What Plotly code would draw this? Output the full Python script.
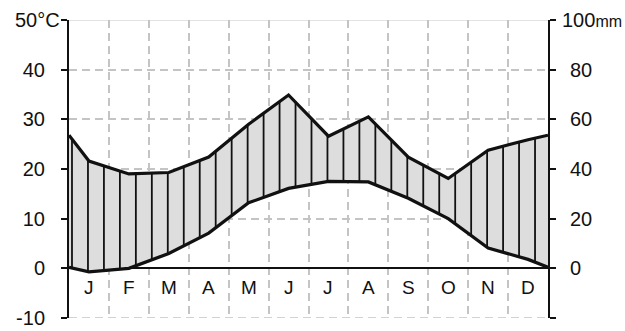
import numpy as np
import plotly.graph_objects as go

# Month positions: edges 0 and 12, centres 0.5..11.5
month_labels = ["J", "F", "M", "A", "M", "J", "J", "A", "S", "O", "N", "D"]
x_pos = [0, 0.5, 1.5, 2.5, 3.5, 4.5, 5.5, 6.5, 7.5, 8.5, 9.5, 10.5, 11.5, 12]

# Temperature (°C)
temperature = [0.2, -0.7, 0.0, 3.0, 7.1, 13.2, 16.1, 17.5, 17.4, 14.1, 10.0, 4.1, 1.8, 0.2]
# Precipitation (mm)
precipitation = [53.6, 43.2, 38.0, 38.6, 44.8, 58.0, 69.8, 53.2, 61.0, 44.8, 36.2, 47.6, 51.8, 53.6]

left_ticks = [-10, 0, 10, 20, 30, 40, 50]
left_ticktext = ["-10", "0", "10", "20", "30", "40", ""]
right_ticks = [-20, 0, 20, 40, 60, 80, 100]
right_ticktext = ["", "0", "20", "40", "60", "80", ""]

precip_scaled = [p / 2.0 for p in precipitation]  # 20 mm = 10 °C

# hatch positions (vertical lines between curves)
hx = 0.075 + 0.4 * np.arange(30)
t_i = np.interp(hx, x_pos, temperature)
p_i = np.interp(hx, x_pos, precip_scaled)
hatch_x, hatch_y = [], []
for xx, lo, hi in zip(hx, t_i, p_i):
    hatch_x += [xx, xx, None]
    hatch_y += [lo, hi, None]

fig = go.Figure()
fig.add_trace(go.Scatter(x=x_pos, y=temperature, mode="lines",
                         line=dict(color="rgba(0,0,0,0)", width=0), showlegend=False, hoverinfo="skip"))
fig.add_trace(go.Scatter(x=x_pos, y=precip_scaled, mode="lines", fill="tonexty",
                         fillcolor="#dddddd", line=dict(color="rgba(0,0,0,0)", width=0),
                         showlegend=False, hoverinfo="skip"))
fig.add_trace(go.Scatter(x=hatch_x, y=hatch_y, mode="lines",
                         line=dict(color="#111111", width=1.8), showlegend=False, hoverinfo="skip"))
fig.add_trace(go.Scatter(x=x_pos, y=temperature, mode="lines",
                         line=dict(color="#111111", width=3.2), showlegend=False))
fig.add_trace(go.Scatter(x=x_pos, y=precip_scaled, mode="lines",
                         line=dict(color="#111111", width=3.2), showlegend=False))
# dummy trace to activate right axis
fig.add_trace(go.Scatter(x=[0], y=[0], yaxis="y2", mode="markers",
                         marker=dict(opacity=0), showlegend=False, hoverinfo="skip"))

# month labels
for i, m in enumerate(month_labels):
    fig.add_annotation(x=i + 0.5, y=-3.9, text=m, showarrow=False,
                       font=dict(size=19, color="#111111"), xanchor="center", yanchor="middle")

fig.add_annotation(xref="paper", x=-0.0146, y=50, text="50°C", showarrow=False,
                   font=dict(size=20, color="#111111"), xanchor="right", yanchor="middle")
fig.add_annotation(xref="paper", x=1.029, y=50, text="100<span style='font-size:16px'>mm</span>",
                   showarrow=False, font=dict(size=20, color="#111111"),
                   xanchor="left", yanchor="middle", xshift=-2)

# top light line
fig.add_shape(type="line", xref="x", yref="y", x0=0, x1=12, y0=50, y1=50,
              line=dict(color="#d9d9d9", width=1.5), layer="below")
# bottom dashed line
fig.add_shape(type="line", xref="x", yref="y", x0=0, x1=12, y0=-10, y1=-10,
              line=dict(color="#c4c4c4", width=1.5, dash="8px,5px"), layer="below")

fig.update_layout(
    width=625, height=331,
    margin=dict(l=69, r=77, t=20, b=13, autoexpand=False),
    plot_bgcolor="white", paper_bgcolor="white",
    font=dict(family="Liberation Sans, Arial, sans-serif", size=20, color="#111111"),
    xaxis=dict(range=[0, 12], tickvals=list(range(1, 12)), showticklabels=False,
               showgrid=True, gridcolor="#c4c4c4", gridwidth=1.5, griddash="8px,5px",
               zeroline=False, showline=False, ticks="", automargin=False),
    yaxis=dict(range=[-10, 50], tickvals=left_ticks, ticktext=left_ticktext,
               showgrid=True, gridcolor="#c4c4c4", gridwidth=1.5, griddash="8px,5px",
               zeroline=True, zerolinecolor="#111111", zerolinewidth=1.5,
               showline=True, linecolor="#111111", linewidth=2,
               ticks="outside", ticklen=6, tickwidth=1.5, tickcolor="#111111",
               ticklabelstandoff=12, automargin=False),
    yaxis2=dict(range=[-20, 100], overlaying="y", side="right",
                tickvals=right_ticks, ticktext=right_ticktext,
                showgrid=False, zeroline=False,
                showline=True, linecolor="#111111", linewidth=2,
                ticks="outside", ticklen=6, tickwidth=1.5, tickcolor="#111111",
                ticklabelstandoff=10, automargin=False),
)

fig.write_html("out.html", config={"displayModeBar": False},
               post_script="document.body.style.margin='0';document.body.style.padding='0';")
